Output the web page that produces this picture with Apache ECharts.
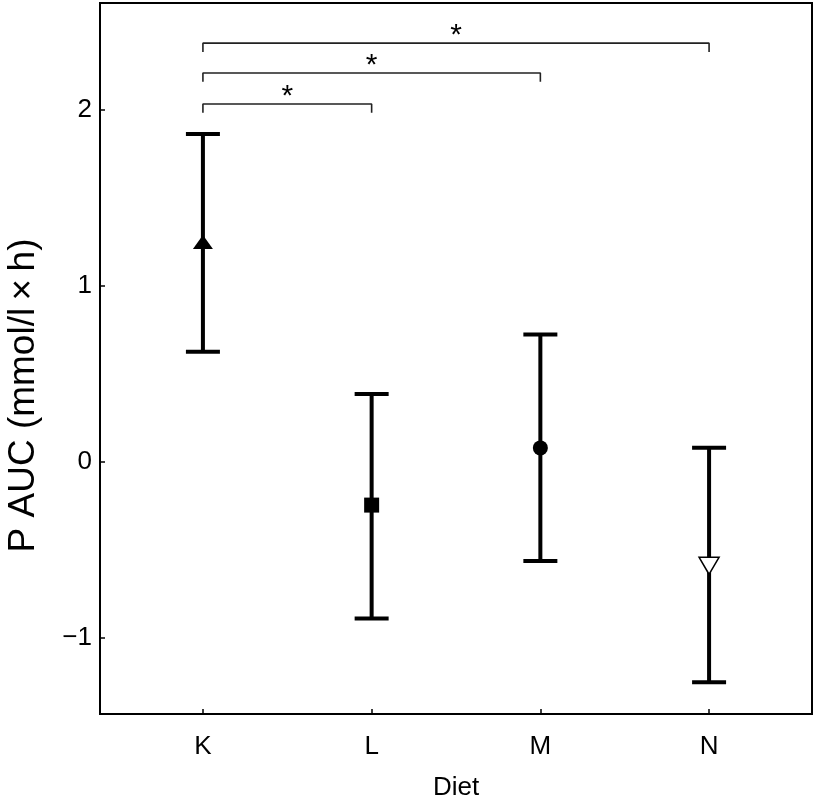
<!DOCTYPE html>
<html>
<head>
<meta charset="utf-8">
<script src="https://cdn.jsdelivr.net/npm/echarts@6/dist/echarts.min.js"></script>
<style>html,body{margin:0;padding:0;background:#fff}#c{width:816px;height:803px}</style>
</head>
<body>
<div id="c"></div>
<script>
// ---- data ----
const categories = ['K', 'L', 'M', 'N'];
const catPos = [1, 2, 3, 4];
const means = [1.25, -0.245, 0.08, -0.59];
const lower = [0.627, -0.89, -0.563, -1.252];
const upper = [1.864, 0.386, 0.725, 0.081];
const markerShapes = ['triangle', 'rect', 'circle', 'triangle'];
const yTicks = [-1, 0, 1, 2];
// significance brackets (from K to target)
const bracketFrom = [1, 1, 1];
const bracketTo = [2, 3, 4];
const bracketLevel = [2.034, 2.21, 2.38];
const bracketLabel = ['*', '*', '*'];

const chart = echarts.init(document.getElementById('c'), null, {renderer: 'canvas'});
const FONT = 'Liberation Sans, Arial, Helvetica, sans-serif';

const errData = catPos.map((x, i) => [x, means[i], lower[i], upper[i]]);

const series = [];
series.push({
  type: 'custom',
  data: errData,
  z: 2,
  renderItem: function (params, api) {
    const x = api.value(0);
    const lo = api.coord([x, api.value(2)]);
    const hi = api.coord([x, api.value(3)]);
    const hw = 17;
    const st = {stroke: '#000', lineWidth: 4};
    return {
      type: 'group',
      children: [
        {type: 'line', shape: {x1: lo[0], y1: lo[1], x2: hi[0], y2: hi[1]}, style: st},
        {type: 'line', shape: {x1: lo[0] - hw, y1: lo[1], x2: lo[0] + hw, y2: lo[1]}, style: st},
        {type: 'line', shape: {x1: hi[0] - hw, y1: hi[1], x2: hi[0] + hw, y2: hi[1]}, style: st}
      ]
    };
  }
});
// markers
catPos.forEach((x, i) => {
  const inverted = i === 3;
  series.push({
    type: 'scatter',
    z: 5,
    data: [[x, means[i]]],
    symbol: markerShapes[i],
    symbolRotate: inverted ? 180 : 0,
    symbolSize: i === 0 ? [20, 14] : i === 1 ? [15, 15] : i === 2 ? [15, 15] : [20, 17],
    itemStyle: inverted ? {color: '#fff', borderColor: '#000', borderWidth: 1.5, opacity: 1} : {color: '#000', opacity: 1},
    emphasis: {disabled: true},
    silent: true
  });
});
// brackets
bracketTo.forEach((t, i) => {
  const f = bracketFrom[i];
  const lv = bracketLevel[i];
  const d = 0.05;
  series.push({
    type: 'line',
    data: [[f, lv - d], [f, lv], [t, lv], [t, lv - d]],
    symbol: 'none',
    lineStyle: {color: '#222', width: 1.6},
    silent: true,
    z: 3
  });
});
// asterisks
series.push({
  type: 'custom',
  z: 4,
  data: bracketTo.map((t, i) => [(bracketFrom[i] + t) / 2, bracketLevel[i], i]),
  renderItem: function (params, api) {
    const p = api.coord([api.value(0), api.value(1)]);
    return {
      type: 'text',
      x: p[0], y: p[1] + 8,
      style: {text: bracketLabel[api.value(2)], font: '30px ' + FONT, fill: '#000', align: 'center', verticalAlign: 'bottom'}
    };
  }
});

chart.setOption({
  animation: false,
  backgroundColor: '#fff',
  grid: {left: 100, right: 4, top: 3, bottom: 89, containLabel: false, outerBoundsMode: 'none', show: true, borderColor: '#000', borderWidth: 2, backgroundColor: 'transparent'},
  xAxis: {
    type: 'value', min: 0.39, max: 4.61,
    name: 'Diet', nameLocation: 'middle', nameGap: 61,
    nameTextStyle: {fontFamily: FONT, fontSize: 26, color: '#000'},
    axisLine: {show: true, onZero: false, lineStyle: {color: '#000', width: 2}},
    axisTick: {show: true, inside: true, length: 5, customValues: catPos, lineStyle: {color: '#000', width: 1.5}},
    axisLabel: {customValues: catPos, formatter: v => categories[Math.round(v) - 1], fontFamily: FONT, fontSize: 26, color: '#000', margin: 20},
    splitLine: {show: false}
  },
  yAxis: {
    type: 'value', min: -1.432, max: 2.608,
    name: 'P AUC (mmol/l\u2009×\u2009h)', nameLocation: 'middle', nameGap: 58,
    nameTextStyle: {fontFamily: FONT, fontSize: 37, color: '#000', padding: [0, 74, 0, 0]},
    axisLine: {show: true, onZero: false, lineStyle: {color: '#000', width: 2}},
    axisTick: {show: true, inside: true, length: 5, customValues: yTicks, lineStyle: {color: '#000', width: 1.5}},
    axisLabel: {customValues: yTicks, formatter: v => String(v).replace('-', '\u2212'), fontFamily: FONT, fontSize: 26, color: '#000', margin: 8},
    splitLine: {show: false}
  },
  series: series
});
</script>
</body>
</html>
